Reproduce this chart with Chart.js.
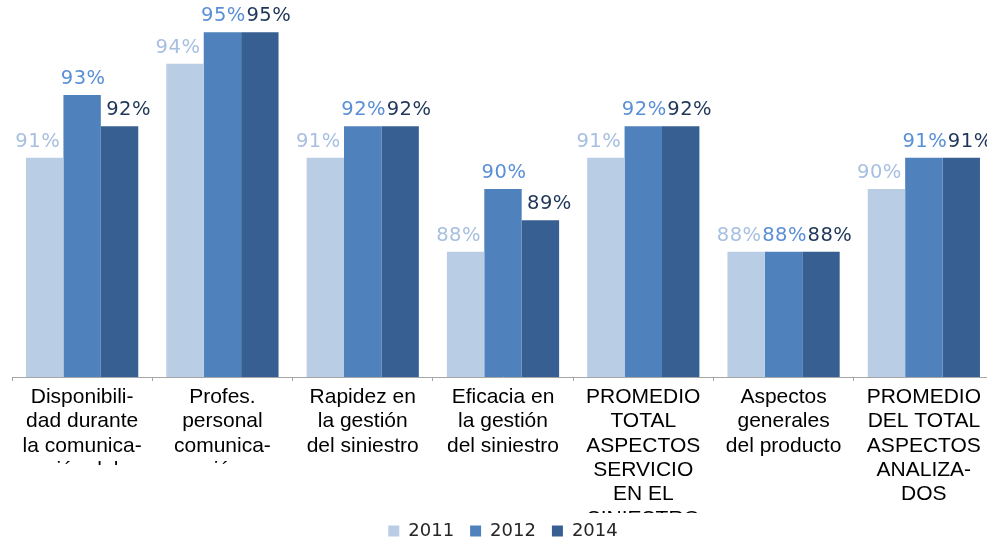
<!DOCTYPE html>
<html>
<head>
<meta charset="utf-8">
<script src="https://cdn.jsdelivr.net/npm/chart.js@4/dist/chart.umd.min.js"></script>
<style>
  html, body { margin: 0; padding: 0; background: #fff; overflow: hidden; }
  #wrap { width: 994px; height: 540px; }
</style>
</head>
<body>
<div id="wrap"><canvas id="chart" width="994" height="540"></canvas></div>
<script>
// Category names, split into the lines they wrap to
const categories = [
  ['Disponibili-', 'dad durante', 'la comunica-', 'ción del', 'siniestro'],
  ['Profes.', 'personal', 'comunica-', 'ción'],
  ['Rapidez en', 'la gestión', 'del siniestro'],
  ['Eficacia en', 'la gestión', 'del siniestro'],
  ['PROMEDIO', 'TOTAL', 'ASPECTOS', 'SERVICIO', 'EN EL', 'SINIESTRO'],
  ['Aspectos', 'generales', 'del producto'],
  ['PROMEDIO', 'DEL TOTAL', 'ASPECTOS', 'ANALIZA-', 'DOS']
];
const years = ['2011', '2012', '2014'];
const values2011 = [91, 94, 91, 88, 91, 88, 90];
const values2012 = [93, 95, 92, 90, 92, 88, 91];
const values2014 = [92, 95, 92, 89, 92, 88, 91];
const yMin = 84;
const yMax = 96;

// Styling
const barColors = ['#b9cde5', '#4f81bd', '#375f91'];
const valueColors = ['#a7bfe0', '#5a8fd6', '#1f3658'];
const valueShift = [-7, 1, 9];
// how far below the axis each category name stays visible
const labelDepth = [87, 87, 135, 135, 135, 135, 135];

const valueLabels = {
  id: 'valueLabels',
  afterDatasetsDraw(chart) {
    const ctx = chart.ctx;
    ctx.save();
    ctx.font = '19.5px "DejaVu Sans"';
    ctx.letterSpacing = '0.5px';
    ctx.textAlign = 'center';
    ctx.textBaseline = 'alphabetic';
    chart.data.datasets.forEach((ds, i) => {
      const meta = chart.getDatasetMeta(i);
      ctx.fillStyle = valueColors[i];
      meta.data.forEach((bar, j) => {
        ctx.fillText(ds.data[j] + '%', bar.x + valueShift[i], bar.y - 11);
      });
    });
    ctx.restore();
  }
};

const categoryLabels = {
  id: 'categoryLabels',
  afterDraw(chart) {
    const sx = chart.scales.x;
    const ctx = chart.ctx;
    const slot = sx.width / categories.length;
    ctx.save();
    ctx.font = '21px "Liberation Sans", Arial, sans-serif';
    ctx.fillStyle = '#000';
    ctx.textAlign = 'center';
    ctx.textBaseline = 'alphabetic';
    categories.forEach((lines, i) => {
      const x = sx.getPixelForValue(i);
      ctx.save();
      ctx.beginPath();
      ctx.rect(x - slot / 2, sx.top + 1, slot, labelDepth[i]);
      ctx.clip();
      lines.forEach((t, k) => ctx.fillText(t, x, sx.top + 26 + k * 24.3));
      ctx.restore();
    });
    ctx.restore();
  }
};

new Chart(document.getElementById('chart'), {
  type: 'bar',
  data: {
    labels: categories.map(l => l.join(' ')),
    datasets: [
      { label: years[0], data: values2011, backgroundColor: barColors[0] },
      { label: years[1], data: values2012, backgroundColor: barColors[1] },
      { label: years[2], data: values2014, backgroundColor: barColors[2] }
    ]
  },
  options: {
    responsive: false,
    animation: false,
    datasets: { bar: { categoryPercentage: 0.8, barPercentage: 1, borderWidth: 0 } },
    layout: { padding: { left: 12, top: 1, right: 0, bottom: 0 } },
    plugins: {
      legend: {
        position: 'bottom',
        maxHeight: 34,
        labels: {
          boxWidth: 11,
          boxHeight: 11,
          padding: 16,
          color: '#262626',
          font: { family: 'DejaVu Sans', size: 18 }
        }
      },
      tooltip: { enabled: false }
    },
    scales: {
      x: {
        ticks: { display: false },
        grid: { drawOnChartArea: false, tickLength: 4, color: '#a6a6a6' },
        border: { color: '#a6a6a6' },
        afterFit(scale) { scale.height = 129; }
      },
      y: { display: false, min: yMin, max: yMax }
    }
  },
  plugins: [valueLabels, categoryLabels]
});
</script>
</body>
</html>
